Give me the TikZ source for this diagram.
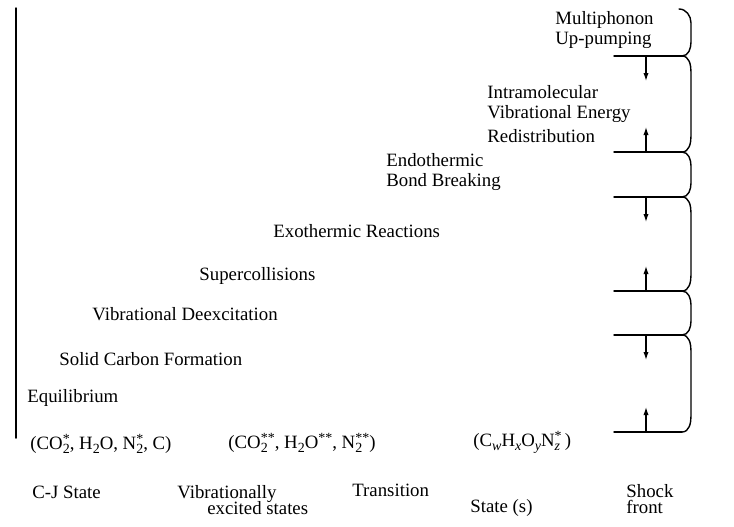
\documentclass[tikz,border=0pt]{standalone}
\usepackage{fontspec}
\setmainfont{Liberation Serif}
\usepackage{tikz}
\usetikzlibrary{arrows.meta,calc,positioning}
\newcommand{\sst}[2]{\rlap{\raisebox{-2pt}{\scriptsize #1}}\raisebox{3pt}{\scriptsize #2}}
\newcommand{\sbs}[1]{\raisebox{-2pt}{\scriptsize #1}}
\tikzset{
  lbl/.style={anchor=west, inner sep=0pt, align=left, font=\fontsize{9.4}{10}\selectfont},
  lvl/.style={line width=0.7pt},
  brk/.style={line width=0.7pt},
  arr/.style={line width=0.6pt, -{Latex[length=4pt,width=2.6pt]}},
  every picture/.style={line cap=round, line join=round}
}
\begin{document}
\begin{tikzpicture}[x=0.5pt,y=-0.5pt]
  \useasboundingbox (0,0) rectangle (734,526);
  % axis on the left
  \coordinate (axtop) at (16,8);
  \coordinate (axbot) at (16,438);
  \draw[line width=0.75pt] (axtop)--(axbot);

  % process labels
  \node[lbl] (multi) at (555,30) {Multiphonon\\Up-pumping};
  \node[lbl] (ivr) at (487,114) {Intramolecular\\Vibrational Energy\\[2pt]Redistribution};
  \node[lbl] (endo) at (386,172) {Endothermic\\Bond Breaking};
  \node[lbl] (exo) at (273,231) {Exothermic Reactions};
  \node[lbl] (super) at (199,276) {Supercollisions};
  \node[lbl] (deex) at (92,314) {Vibrational Deexcitation};
  \node[lbl] (solid) at (59,359) {Solid Carbon Formation};
  \node[lbl] (equi) at (27,398) {Equilibrium};

  % species and states
  \node[lbl] (cjmix) at (30,444) {(CO\sst{2}{*}, H\sbs{2}O, N\sst{2}{*}, C)};
  \node[lbl] (vbmix) at (228,443) {(CO\sst{2}{**}, H\sbs{2}O\raisebox{3pt}{\scriptsize **}, N\sst{2}{**})};
  \node[lbl] (trmix) at (473,442) {(C\sbs{\itshape w}H\sbs{\itshape x}O\sbs{\itshape y}N\sst{\itshape z}{*}\,)};
  \node[lbl] (cj) at (32,492) {C-J State};
  \node[lbl] (vibr) at (177,500) {Vibrationally\\[-2pt]\hspace*{15pt}excited states};
  \node[lbl] (trans) at (352,490) {Transition};
  \node[lbl] (state) at (470,508) {State (s)};
  \node[lbl] (shock) at (626,499) {Shock\\[-2pt]front};

  % levels
  \coordinate (top) at (679,9);
  \coordinate (a1) at (614,56);  \coordinate (b1) at (682,56);
  \coordinate (a2) at (614,152); \coordinate (b2) at (682,152);
  \coordinate (a3) at (614,197); \coordinate (b3) at (682,197);
  \coordinate (a4) at (614,291); \coordinate (b4) at (682,291);
  \coordinate (a5) at (614,335); \coordinate (b5) at (682,335);
  \coordinate (a6) at (614,432); \coordinate (b6) at (682,432);
  \draw[lvl] (a1)--(b1) (a2)--(b2) (a3)--(b3) (a4)--(b4) (a5)--(b5) (a6)--(b6);

  % brackets
  \draw[brk] (top) to[out=0,in=90] ($(top)+(12,14)$) -- ($(b1)+(9,-14)$) to[out=-90,in=0] (b1);
  \draw[brk] (b1) to[out=0,in=90] ($(b1)+(9,16)$) -- ($(b2)+(9,-16)$) to[out=-90,in=0] (b2);
  \draw[brk] (b2) to[out=0,in=90] ($(b2)+(9,14)$) -- ($(b3)+(9,-14)$) to[out=-90,in=0] (b3);
  \draw[brk] (b3) to[out=0,in=90] ($(b3)+(9,16)$) -- ($(b4)+(9,-16)$) to[out=-90,in=0] (b4);
  \draw[brk] (b4) to[out=0,in=90] ($(b4)+(9,14)$) -- ($(b5)+(9,-14)$) to[out=-90,in=0] (b5);
  \draw[brk] (b5) to[out=0,in=90] ($(b5)+(9,16)$) -- ($(b6)+(9,-16)$) to[out=-90,in=0] (b6);

  % arrows
  \coordinate (d1) at (646,56);  \coordinate (e1) at (646,81);
  \coordinate (d2) at (646,152); \coordinate (e2) at (646,127);
  \coordinate (d3) at (646,197); \coordinate (e3) at (646,222);
  \coordinate (d4) at (646,291); \coordinate (e4) at (646,266);
  \coordinate (d5) at (646,335); \coordinate (e5) at (646,360);
  \coordinate (d6) at (646,432); \coordinate (e6) at (646,407);
  \draw[arr] (d1)--(e1);
  \draw[arr] (d2)--(e2);
  \draw[arr] (d3)--(e3);
  \draw[arr] (d4)--(e4);
  \draw[arr] (d5)--(e5);
  \draw[arr] (d6)--(e6);
\end{tikzpicture}
\end{document}
